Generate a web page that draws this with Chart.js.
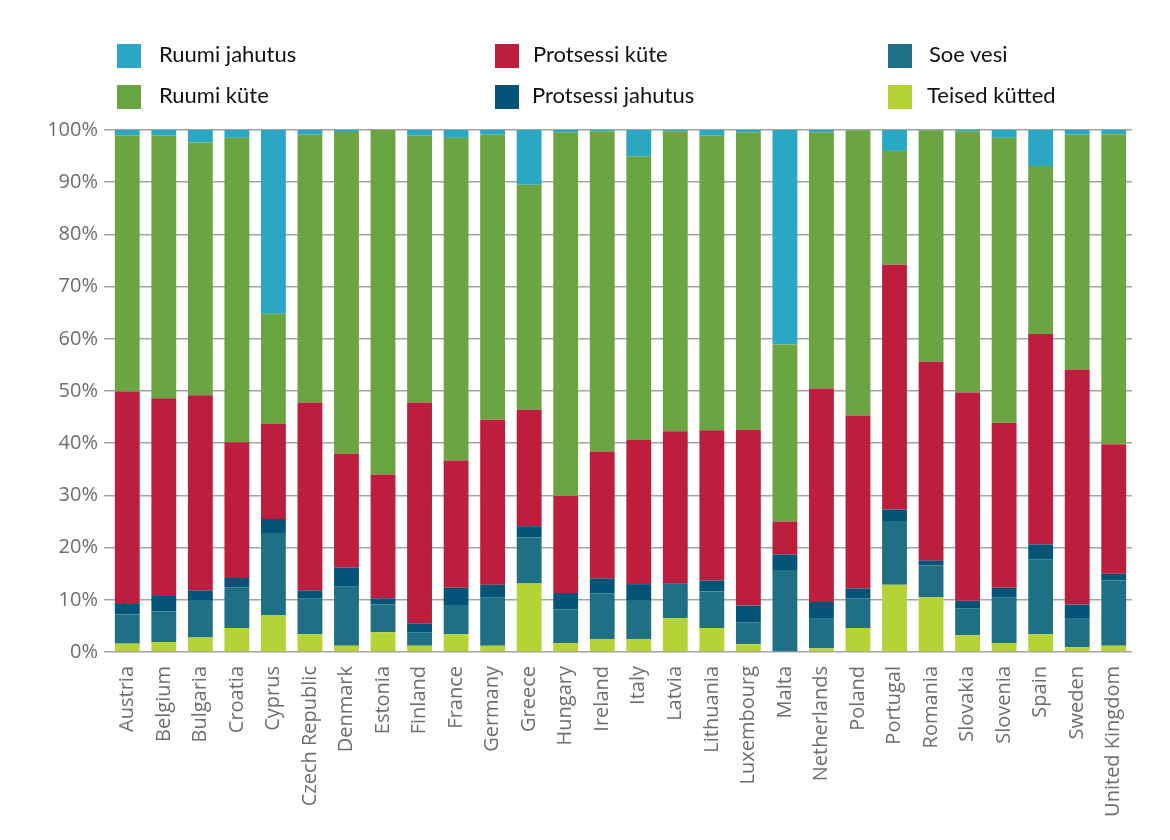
<!DOCTYPE html>
<html>
<head>
<meta charset="utf-8">
<script src="https://cdn.jsdelivr.net/npm/chart.js@4.4.1/dist/chart.umd.min.js"></script>
<style>
  html, body { margin: 0; padding: 0; background: #fff; }
  #wrap { position: relative; width: 1170px; height: 840px; }
  #legend { position: absolute; left: 0; top: 0; width: 1170px; height: 120px; }
  .item { position: absolute; height: 24px; }
  .item span.sw { position: absolute; left: 0; top: 0; width: 24px; height: 24px; }
  .item span.tx { position: absolute; top: -4px; white-space: nowrap;
    font-family: Lato, "Open Sans", sans-serif; font-size: 22px; color: #111; }
</style>
</head>
<body>
<div id="wrap">
  <canvas id="chart" width="1170" height="840"></canvas>
  <div id="legend"></div>
</div>
<script>
const countries = ['Austria', 'Belgium', 'Bulgaria', 'Croatia', 'Cyprus', 'Czech Republic', 'Denmark',
  'Estonia', 'Finland', 'France', 'Germany', 'Greece', 'Hungary', 'Ireland', 'Italy', 'Latvia',
  'Lithuania', 'Luxembourg', 'Malta', 'Netherlands', 'Poland', 'Portugal', 'Romania', 'Slovakia',
  'Slovenia', 'Spain', 'Sweden', 'United Kingdom'];

// osakaal protsentides, alt üles
const teisedKutted = [1.6, 1.9, 2.8, 4.6, 7.1, 3.4, 1.2, 3.8, 1.2, 3.4, 1.2, 13.1, 1.7, 2.5, 2.5, 6.5,
  4.6, 1.5, 0, 0.7, 4.6, 12.9, 10.5, 3.2, 1.7, 3.4, 0.9, 1.2];
const soeVesi = [5.6, 5.9, 7.0, 7.8, 15.7, 6.8, 11.3, 5.3, 2.5, 5.6, 9.2, 8.9, 6.5, 8.7, 7.3, 6.7,
  7.0, 4.2, 15.7, 5.8, 5.7, 12.2, 6.1, 5.2, 8.7, 14.3, 5.6, 12.5];
const protsessiJahutus = [2.0, 3.1, 2.0, 1.8, 2.7, 1.6, 3.7, 1.2, 1.8, 3.3, 2.5, 2.1, 3.1, 2.9, 3.2, 0,
  2.1, 3.2, 3.0, 3.1, 1.9, 2.2, 0.9, 1.4, 1.9, 2.9, 2.6, 1.3];
const protsessiKute = [40.7, 37.7, 37.4, 26.0, 18.2, 36.0, 21.8, 23.7, 42.3, 24.4, 31.6, 22.3, 18.6, 24.3, 27.6, 29.1,
  28.8, 33.7, 6.3, 40.9, 33.1, 46.9, 38.1, 39.9, 31.6, 40.3, 45.0, 24.8];
const ruumiKute = [49.1, 50.4, 48.4, 58.3, 21.1, 51.3, 61.6, 66.0, 51.1, 61.8, 54.6, 43.1, 69.6, 61.3, 54.3, 57.4,
  56.4, 56.9, 33.9, 49.0, 54.6, 21.8, 44.3, 50.0, 54.6, 32.2, 45.0, 59.4];
const ruumiJahutus = [1.0, 1.0, 2.4, 1.5, 35.2, 0.9, 0.4, 0, 1.1, 1.5, 0.9, 10.5, 0.5, 0.3, 5.1, 0.3,
  1.1, 0.5, 41.1, 0.5, 0.1, 4.0, 0.1, 0.3, 1.5, 6.9, 0.9, 0.8];

const yTicks = ['0%', '10%', '20%', '30%', '40%', '50%', '60%', '70%', '80%', '90%', '100%'];

const series = [
  { label: 'Teised kütted', data: teisedKutted, color: '#b5d334' },
  { label: 'Soe vesi', data: soeVesi, color: '#1f7085' },
  { label: 'Protsessi jahutus', data: protsessiJahutus, color: '#045478' },
  { label: 'Protsessi küte', data: protsessiKute, color: '#be1e3d' },
  { label: 'Ruumi küte', data: ruumiKute, color: '#6ba542' },
  { label: 'Ruumi jahutus', data: ruumiJahutus, color: '#2aa7c2' }
];

// legend: kolm veergu, kaks rida
const legendOrder = [
  ['Ruumi jahutus', 117, 44, 159], ['Protsessi küte', 495, 44, 533], ['Soe vesi', 888, 44, 929],
  ['Ruumi küte', 117, 85, 159], ['Protsessi jahutus', 495, 85, 532], ['Teised kütted', 888, 85, 927]
];
const legendEl = document.getElementById('legend');
legendOrder.forEach(([name, x, y, tx]) => {
  const s = series.find(d => d.label === name);
  const div = document.createElement('div');
  div.className = 'item';
  div.style.left = x + 'px';
  div.style.top = y + 'px';
  div.innerHTML = '<span class="sw" style="background:' + s.color + '"></span>' +
    '<span class="tx" style="left:' + (tx - x) + 'px">' + name + '</span>';
  legendEl.appendChild(div);
});

const tickFont = { family: '"Open Sans", sans-serif', size: 20 };

new Chart(document.getElementById('chart'), {
  type: 'bar',
  data: {
    labels: countries,
    datasets: series.map(s => ({
      label: s.label,
      data: s.data,
      backgroundColor: s.color,
      borderWidth: 0,
      categoryPercentage: 1,
      barPercentage: 0.68
    }))
  },
  options: {
    responsive: false,
    animation: false,
    layout: { padding: { top: 130, right: 38, bottom: 0, left: 0 } },
    plugins: { legend: { display: false }, tooltip: { enabled: false } },
    scales: {
      x: {
        stacked: true,
        grid: { display: false },
        border: { display: false },
        ticks: { color: '#6d6e71', font: tickFont, minRotation: 90, maxRotation: 90, padding: 6, autoSkip: false },
        afterFit: scale => { scale.height = 188; }
      },
      y: {
        stacked: true,
        min: 0,
        max: 100,
        border: { display: false },
        grid: { color: '#a3a3a3', lineWidth: 1.5, tickLength: 5 },
        ticks: {
          stepSize: 10,
          color: '#6d6e71',
          font: tickFont,
          padding: 6,
          callback: (v, i) => yTicks[i]
        },
        afterFit: scale => { scale.width = 109; }
      }
    }
  }
});
</script>
</body>
</html>
